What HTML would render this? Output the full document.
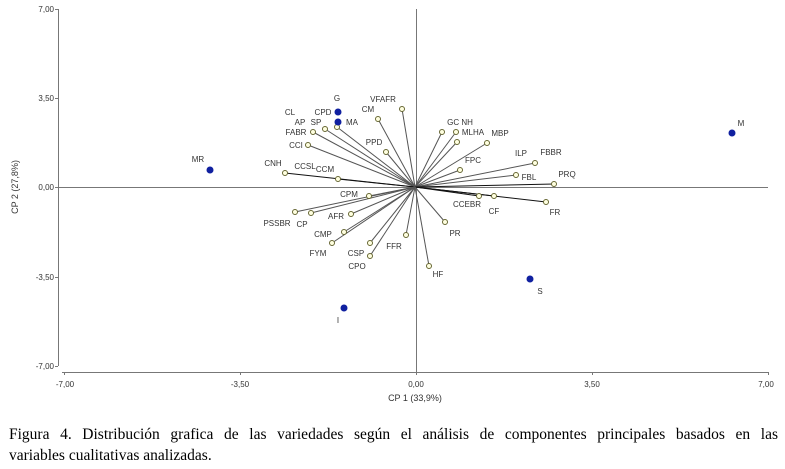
<!DOCTYPE html>
<html><head><meta charset="utf-8"><style>
html,body{margin:0;padding:0;background:#fff;width:785px;height:469px;overflow:hidden}
svg{position:absolute;left:0;top:0}
.cap{position:absolute;left:9px;width:769px;font-family:"Liberation Serif",serif;font-size:15.5px;color:#000;line-height:20px;text-align:justify;text-align-last:justify}
</style></head><body>
<svg width="785" height="420" font-family="Liberation Sans, sans-serif">
<g stroke="#777" stroke-width="1">
<line x1="58.5" y1="9" x2="58.5" y2="366"/>
<line x1="62" y1="372.5" x2="768" y2="372.5"/>
<line x1="416.5" y1="9" x2="416.5" y2="372"/>
<line x1="58" y1="187.5" x2="768" y2="187.5"/>
<line x1="55" y1="9.5" x2="58" y2="9.5"/><line x1="55" y1="98.5" x2="58" y2="98.5"/><line x1="55" y1="187.5" x2="58" y2="187.5"/><line x1="55" y1="277.5" x2="58" y2="277.5"/><line x1="55" y1="366.5" x2="58" y2="366.5"/>
<line x1="64.5" y1="372" x2="64.5" y2="375"/><line x1="240.5" y1="372" x2="240.5" y2="375"/><line x1="416.5" y1="372" x2="416.5" y2="375"/><line x1="592.5" y1="372" x2="592.5" y2="375"/><line x1="768.5" y1="372" x2="768.5" y2="375"/>
</g>
<g font-size="8" fill="#333" text-anchor="end">
<text x="54" y="12">7,00</text><text x="54" y="101">3,50</text><text x="54" y="190">0,00</text><text x="54" y="280">-3,50</text><text x="54" y="369">-7,00</text>
</g>
<g font-size="8" fill="#333" text-anchor="middle">
<text x="65" y="387">-7,00</text><text x="240" y="387">-3,50</text><text x="416" y="387">0,00</text><text x="592" y="387">3,50</text><text x="766" y="387">7,00</text>
</g>
<text x="415" y="401" font-size="9" fill="#333" text-anchor="middle">CP 1 (33,9%)</text>
<text transform="translate(18,187) rotate(-90)" font-size="9" fill="#333" text-anchor="middle">CP 2 (27,8%)</text>
<g stroke="#555" stroke-width="1">
<line x1="415" y1="187" x2="402" y2="109"/><line x1="415" y1="187" x2="378" y2="119"/><line x1="415" y1="187" x2="337" y2="127"/><line x1="415" y1="187" x2="325" y2="129"/><line x1="415" y1="187" x2="313" y2="132"/><line x1="415" y1="187" x2="308" y2="145"/><line x1="415" y1="187" x2="386" y2="152"/><line x1="415" y1="187" x2="285" y2="173" stroke="#111"/><line x1="415" y1="187" x2="338" y2="179" stroke="#111"/><line x1="415" y1="187" x2="369" y2="196"/><line x1="415" y1="187" x2="351" y2="214"/><line x1="415" y1="187" x2="311" y2="213"/><line x1="415" y1="187" x2="295" y2="212"/><line x1="415" y1="187" x2="344" y2="232"/><line x1="415" y1="187" x2="332" y2="243"/><line x1="415" y1="187" x2="370" y2="243"/><line x1="415" y1="187" x2="370" y2="256"/><line x1="415" y1="187" x2="406" y2="235"/><line x1="415" y1="187" x2="429" y2="266"/>
<line x1="415" y1="187" x2="442" y2="132"/><line x1="415" y1="187" x2="456" y2="132"/><line x1="415" y1="187" x2="457" y2="142"/><line x1="415" y1="187" x2="487" y2="143"/><line x1="415" y1="187" x2="460" y2="170"/><line x1="415" y1="187" x2="535" y2="163"/><line x1="415" y1="187" x2="516" y2="175"/><line x1="415" y1="187" x2="554" y2="184" stroke="#111"/><line x1="415" y1="187" x2="479" y2="196" stroke="#111"/><line x1="415" y1="187" x2="494" y2="196" stroke="#111"/><line x1="415" y1="187" x2="546" y2="202" stroke="#111"/><line x1="415" y1="187" x2="445" y2="222"/>
</g>
<g fill="#ffffe0" stroke="#666633" stroke-width="1">
<circle cx="402" cy="109" r="2.5"/><circle cx="378" cy="119" r="2.5"/><circle cx="337" cy="127" r="2.5"/><circle cx="325" cy="129" r="2.5"/><circle cx="313" cy="132" r="2.5"/><circle cx="308" cy="145" r="2.5"/><circle cx="386" cy="152" r="2.5"/><circle cx="285" cy="173" r="2.5"/><circle cx="338" cy="179" r="2.5"/><circle cx="369" cy="196" r="2.5"/><circle cx="351" cy="214" r="2.5"/><circle cx="311" cy="213" r="2.5"/><circle cx="295" cy="212" r="2.5"/><circle cx="344" cy="232" r="2.5"/><circle cx="332" cy="243" r="2.5"/><circle cx="370" cy="243" r="2.5"/><circle cx="370" cy="256" r="2.5"/><circle cx="406" cy="235" r="2.5"/><circle cx="429" cy="266" r="2.5"/>
<circle cx="442" cy="132" r="2.5"/><circle cx="456" cy="132" r="2.5"/><circle cx="457" cy="142" r="2.5"/><circle cx="487" cy="143" r="2.5"/><circle cx="460" cy="170" r="2.5"/><circle cx="535" cy="163" r="2.5"/><circle cx="516" cy="175" r="2.5"/><circle cx="554" cy="184" r="2.5"/><circle cx="479" cy="196" r="2.5"/><circle cx="494" cy="196" r="2.5"/><circle cx="546" cy="202" r="2.5"/><circle cx="445" cy="222" r="2.5"/>
</g>
<g fill="#1020a0">
<circle cx="338" cy="112" r="3.5"/><circle cx="338" cy="122" r="3.5"/><circle cx="210" cy="170" r="3.5"/><circle cx="732" cy="133" r="3.5"/><circle cx="530" cy="279" r="3.5"/><circle cx="344" cy="308" r="3.5"/>
</g>
<g font-size="8" fill="#333" text-anchor="middle">
<text x="337" y="101">G</text><text x="290" y="115">CL</text><text x="323" y="115">CPD</text><text x="300" y="125">AP</text><text x="316" y="125">SP</text><text x="352" y="125">MA</text><text x="296" y="135">FABR</text><text x="296" y="148">CCI</text><text x="383" y="102">VFAFR</text><text x="368" y="112">CM</text><text x="374" y="145">PPD</text><text x="198" y="162">MR</text><text x="273" y="166">CNH</text><text x="305" y="169">CCSL</text><text x="325" y="172">CCM</text><text x="349" y="197">CPM</text><text x="277" y="226">PSSBR</text><text x="302" y="227">CP</text><text x="336" y="219">AFR</text><text x="323" y="237">CMP</text><text x="318" y="256">FYM</text><text x="356" y="256">CSP</text><text x="357" y="269">CPO</text><text x="394" y="249">FFR</text>
<text x="460" y="125">GC NH</text><text x="473" y="135">MLHA</text><text x="500" y="136">MBP</text><text x="521" y="156">ILP</text><text x="551" y="155">FBBR</text><text x="473" y="163">FPC</text><text x="529" y="180">FBL</text><text x="567" y="177">PRQ</text><text x="467" y="207">CCEBR</text><text x="494" y="214">CF</text><text x="555" y="215">FR</text><text x="455" y="236">PR</text><text x="438" y="277">HF</text>
<text x="741" y="126">M</text><text x="540" y="294">S</text><text x="338" y="323">I</text>
</g>
</svg>
<div class="cap" style="top:425px">Figura 4. Distribución grafica de las variedades según el análisis de componentes principales basados en las</div>
<div class="cap" style="top:446px;text-align-last:left">variables cualitativas analizadas.</div>
</body></html>
